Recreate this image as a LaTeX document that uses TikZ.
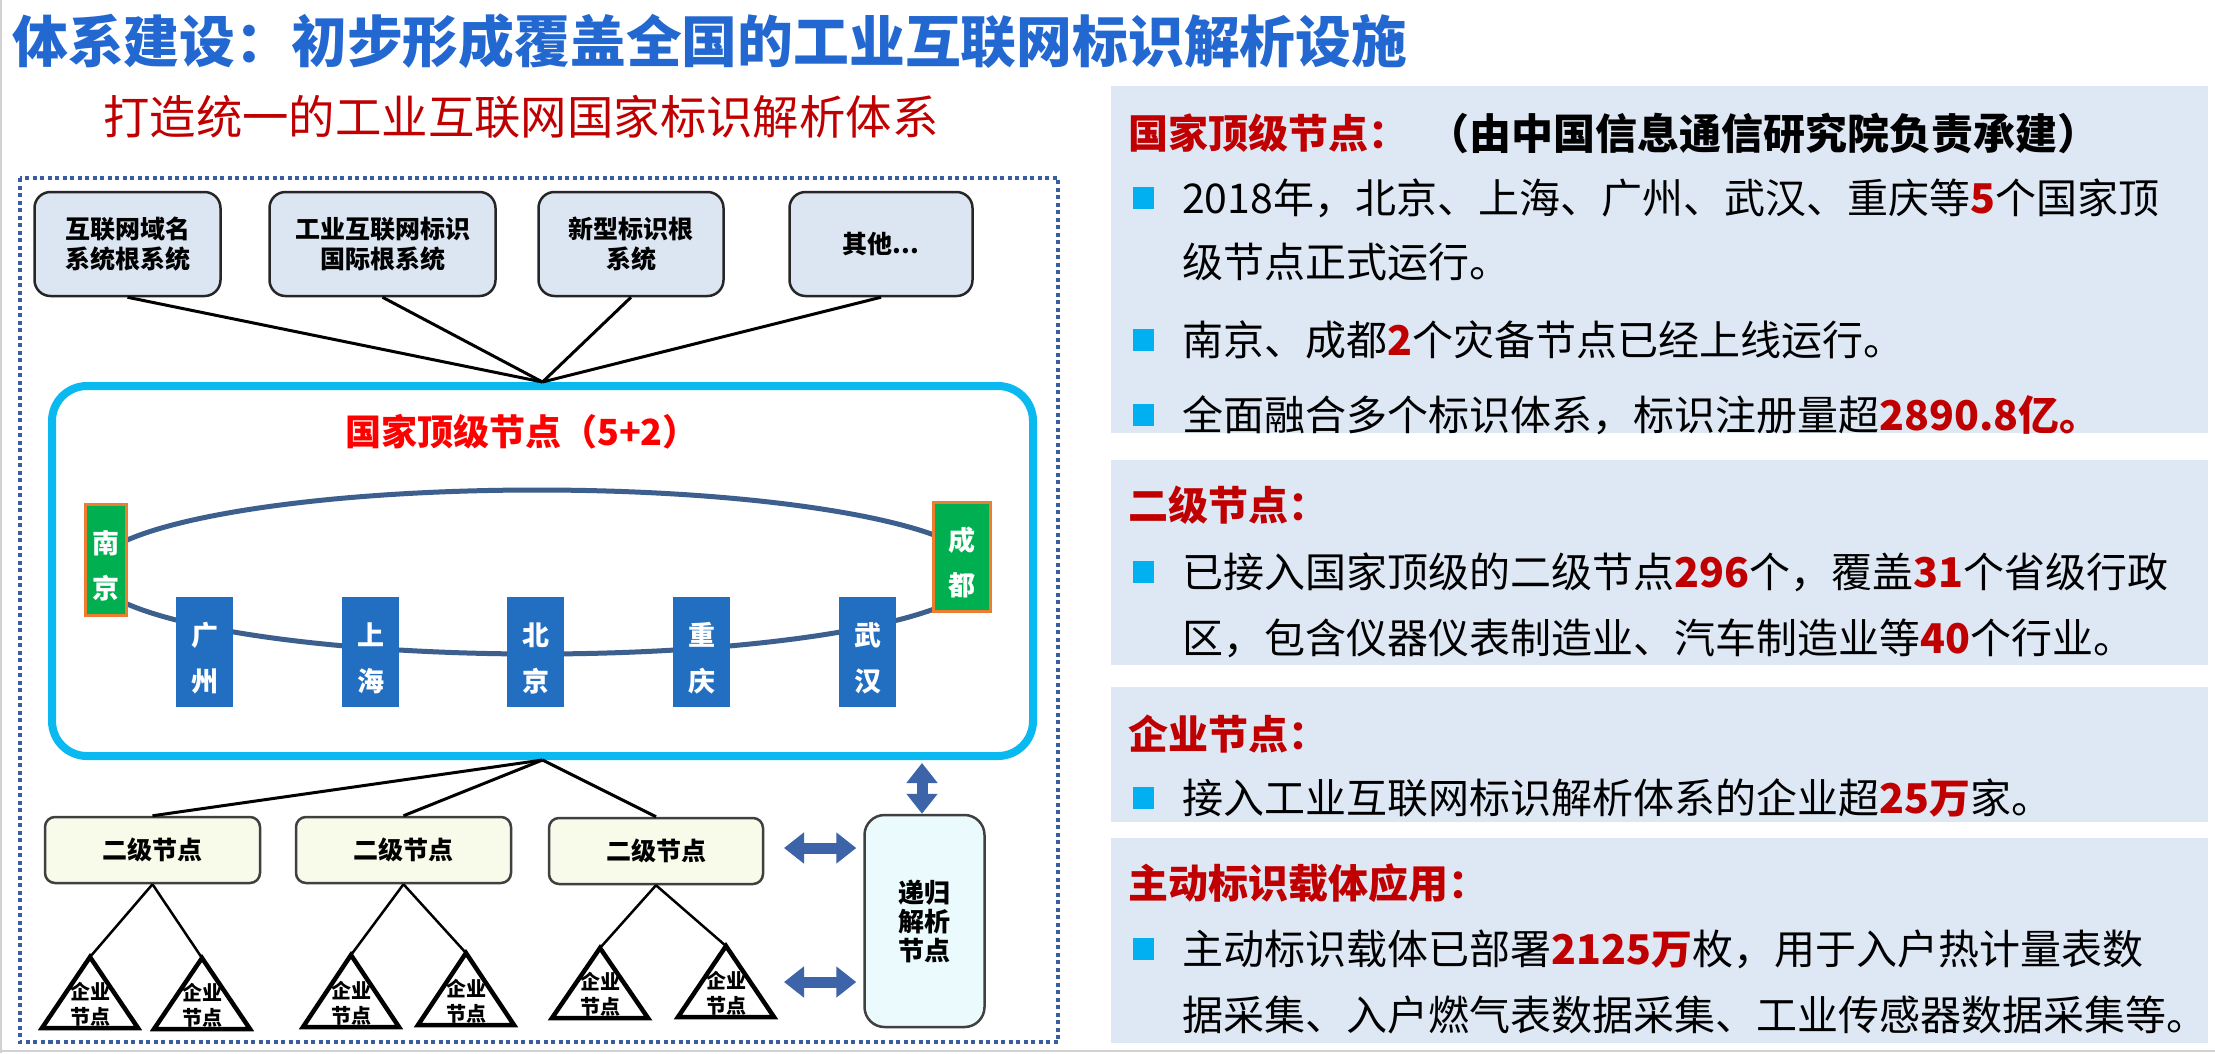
\documentclass[tikz,border=0pt]{standalone}
\usepackage{fontspec}
\setmainfont{Noto Sans CJK SC}
\usetikzlibrary{arrows.meta}
\definecolor{titleblue}{RGB}{34,104,208}
\definecolor{dred}{RGB}{192,0,0}
\definecolor{bred}{RGB}{255,0,0}
\definecolor{frameblue}{RGB}{58,93,160}
\definecolor{topfill}{RGB}{220,230,242}
\definecolor{cyanline}{RGB}{10,185,240}
\definecolor{ellcol}{RGB}{60,95,142}
\definecolor{cgreen}{RGB}{0,176,80}
\definecolor{corange}{RGB}{237,125,49}
\definecolor{cityblue}{RGB}{34,111,194}
\definecolor{secfill}{RGB}{248,251,233}
\definecolor{recfill}{RGB}{234,250,253}
\definecolor{arrowblue}{RGB}{61,99,168}
\definecolor{panelbg}{RGB}{222,232,245}
\definecolor{bulletcyan}{RGB}{0,176,240}
\definecolor{edgegray}{RGB}{64,64,64}
\newcommand{\redb}[1]{\textcolor{dred}{\bfseries #1}}
\begin{document}
\begin{tikzpicture}[x=1pt,y=-1pt,
  rootbox/.style={draw=black!85, line width=2.5pt, fill=topfill, rounded corners=16pt,
    minimum height=104pt, inner sep=0pt, align=center, font=\fontsize{25}{30}\selectfont\bfseries},
  conn/.style={black, line width=3pt},
  conn2/.style={black, line width=2.5pt},
  greenbox/.style={draw=corange, line width=3pt, fill=cgreen, inner sep=0pt},
  citybox/.style={fill=cityblue, minimum width=57pt, minimum height=110pt, inner sep=0pt},
  citytext/.style={text=white, align=center, inner sep=0pt, font=\fontsize{27}{46}\selectfont\bfseries},
  secbox/.style={draw=edgegray, line width=2.5pt, fill=secfill, rounded corners=10pt,
    minimum height=66pt, minimum width=215pt, inner sep=0pt, font=\fontsize{25}{25}\selectfont\bfseries},
  recbox/.style={draw=edgegray, line width=2.5pt, fill=recfill, rounded corners=20pt,
    minimum width=120pt, minimum height=212pt, inner sep=0pt, align=center,
    font=\fontsize{26}{29}\selectfont\bfseries},
  tri/.style={draw=black, line width=4.5pt, fill=white},
  tritext/.style={align=center, inner sep=0pt, font=\fontsize{20}{25}\selectfont\bfseries},
  dbl/.style={draw=arrowblue, line width=11pt,
    {Triangle[length=20pt,width=30pt]}-{Triangle[length=20pt,width=30pt]}},
  panel/.style={fill=panelbg, minimum width=1097pt, inner sep=0pt, anchor=north west},
  phead/.style={anchor=west, inner sep=0pt, text=dred, font=\fontsize{40}{40}\selectfont\bfseries},
  ptext/.style={anchor=west, inner sep=0pt, font=\fontsize{41}{41}\selectfont},
  bullet/.style={fill=bulletcyan, minimum width=21pt, minimum height=22pt, inner sep=0pt}
]
\useasboundingbox (0,0) rectangle (2215,1053);
\fill[white] (0,0) rectangle (2215,1053);
\draw[gray!35, line width=2pt] (1,0) -- (1,1053);
\draw[gray!35, line width=2pt] (0,1051) -- (2215,1051);

% titles
\node[anchor=west, inner sep=0pt, text=titleblue, font=\fontsize{55.8}{56}\selectfont\bfseries] (title) at (12,41)
  {体系建设：初步形成覆盖全国的工业互联网标识解析设施};
\node[anchor=west, inner sep=0pt, text=dred, font=\fontsize{46.4}{47}\selectfont] (subtitle) at (103,117)
  {打造统一的工业互联网国家标识解析体系};

% dotted frame
\draw[frameblue, line width=3.5pt, dash pattern=on 4pt off 3.5pt] (20,178) rectangle (1058,1042);

% root systems
\node[rootbox, minimum width=186pt] (r1) at (127.5,244) {互联网域名\\系统根系统};
\node[rootbox, minimum width=226pt] (r2) at (382.5,244) {工业互联网标识\\国际根系统};
\node[rootbox, minimum width=185pt] (r3) at (631,244) {新型标识根\\系统};
\node[rootbox, minimum width=183pt] (r4) at (881,244) {其他...};

% top-level node container
\node[draw=cyanline, line width=8pt, rounded corners=35pt, fill=white,
  minimum width=981pt, minimum height=370pt, inner sep=0pt] (top) at (542.5,571) {};
\foreach \r in {r1,r2,r3,r4} \draw[conn] (\r.south) -- (top.north);

\node[text=bred, inner sep=0pt, font=\fontsize{36}{36}\selectfont\bfseries] (toptitle) at (522,432) {国家顶级节点（5+2）};

\draw[ellcol, line width=5pt] (537,572) ellipse [x radius=445pt, y radius=82pt];

\node[greenbox, minimum width=41pt, minimum height=111pt] (nj) at (105.5,559.5) {};
\node[citytext, font=\fontsize{27}{45}\selectfont\bfseries] (njt) at (105.5,565.5) {南\\京};
\node[greenbox, minimum width=57pt, minimum height=109pt] (cd) at (961.5,556.5) {};
\node[citytext, font=\fontsize{27}{45}\selectfont\bfseries] (cdt) at (961.5,562.5) {成\\都};

\node[citybox] (gz) at (204.5,652) {};
\node[citytext] (gzt) at (204.5,658.5) {广\\州};
\node[citybox] (sh) at (370.5,652) {};
\node[citytext] (sht) at (370.5,658.5) {上\\海};
\node[citybox] (bj) at (535.5,652) {};
\node[citytext] (bjt) at (535.5,658.5) {北\\京};
\node[citybox] (cq) at (701.5,652) {};
\node[citytext] (cqt) at (701.5,658.5) {重\\庆};
\node[citybox] (wh) at (867.5,652) {};
\node[citytext] (wht) at (867.5,658.5) {武\\汉};

% secondary nodes
\node[secbox] (s1) at (152.5,850) {二级节点};
\node[secbox] (s2) at (403.5,850) {二级节点};
\node[secbox, minimum width=214pt] (s3) at (656,851) {二级节点};
\foreach \s in {s1,s2,s3} \draw[conn] (top.south) -- (\s.north);

% enterprise nodes
\foreach \n/\cx/\ay/\by/\p in {e1/90/957/1028/s1, e2/202/958/1029/s1, e3/351/955/1027/s2,
                               e4/466/953/1025/s2, e5/600/948/1018/s3, e6/726/946/1017/s3} {
  \coordinate (\n-apex) at (\cx,\ay);
  \draw[conn2] (\p.south) -- (\n-apex);
  \draw[tri] (\n-apex) -- (\cx-48,\by) -- (\cx+48,\by) -- cycle;
  \node[tritext] (\n) at (\cx,\by-24) {企业\\节点};
}

% recursive resolution node
\node[recbox] (rec) at (924.5,921) {递归\\解析\\节点};
\coordinate (vtop) at (922,763);
\draw[dbl] (vtop) -- (vtop |- rec.north);
\coordinate (hup) at (784,848);
\coordinate (hlo) at (784,982);
\draw[dbl, shorten >=7pt] (hup) -- (hup -| rec.west);
\draw[dbl, shorten >=7pt] (hlo) -- (hlo -| rec.west);

% right panels
\node[panel, minimum height=347pt] (p1) at (1111,86) {};
\node[panel, minimum height=205pt] (p2) at (1111,460) {};
\node[panel, minimum height=135pt] (p3) at (1111,687) {};
\node[panel, minimum height=205pt] (p4) at (1111,838) {};

\node[phead] (h1) at (1128,133) {国家顶级节点：};
\node[anchor=west, inner sep=0pt, font=\fontsize{42}{42}\selectfont\bfseries] (h1b) at (1427,133)
  {（由中国信息通信研究院负责承建）};
\node[bullet] (b1) at (1143,197.5) {};
\node[ptext] (t1a) at (1182,198) {2018年，北京、上海、广州、武汉、重庆等\redb{5}个国家顶};
\node[ptext] (t1b) at (1182,262) {级节点正式运行。};
\node[bullet] (b2) at (1143,339.5) {};
\node[ptext] (t2) at (1182,340) {南京、成都\redb{2}个灾备节点已经上线运行。};
\node[bullet] (b3) at (1143,414.5) {};
\node[ptext] (t3) at (1182,415) {全面融合多个标识体系，标识注册量超\redb{2890.8亿。}};

\node[phead] (h2) at (1128,505) {二级节点：};
\node[bullet] (b4) at (1143,571.5) {};
\node[ptext] (t4a) at (1182,572) {已接入国家顶级的二级节点\redb{296}个，覆盖\redb{31}个省级行政};
\node[ptext] (t4b) at (1182,638) {区，包含仪器仪表制造业、汽车制造业等\redb{40}个行业。};

\node[phead] (h3) at (1128,734) {企业节点：};
\node[bullet] (b5) at (1143,797.5) {};
\node[ptext] (t5) at (1182,798) {接入工业互联网标识解析体系的企业超\redb{25万}家。};

\node[phead] (h4) at (1128,883) {主动标识载体应用：};
\node[bullet] (b6) at (1143,948.5) {};
\node[ptext] (t6a) at (1182,949) {主动标识载体已部署\redb{2125万}枚，用于入户热计量表数};
\node[ptext] (t6b) at (1182,1015) {据采集、入户燃气表数据采集、工业传感器数据采集等。};
\end{tikzpicture}
\end{document}
